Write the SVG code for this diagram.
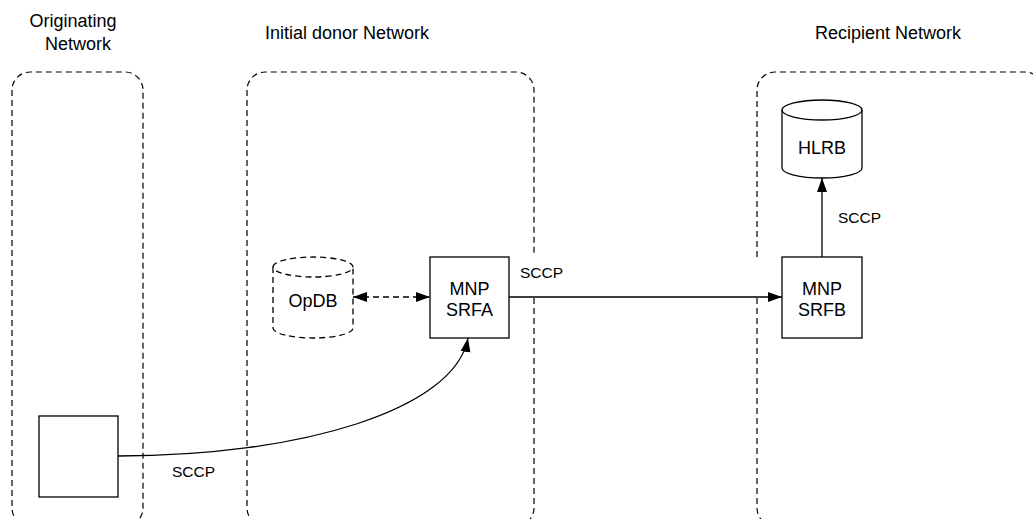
<svg xmlns="http://www.w3.org/2000/svg" width="1033" height="519" viewBox="0 0 1033 519">
  <style>
    .zone { fill: none; stroke: #000; stroke-width: 1.2; stroke-dasharray: 6 4; }
    .box { fill: #fff; stroke: #000; stroke-width: 1.3; }
    .db-dash { fill: #fff; stroke: #000; stroke-width: 1.3; stroke-dasharray: 6 4; }
    .title { font-family: "Liberation Sans", Arial, sans-serif; font-size: 18px; fill: #000; text-anchor: middle; }
    .label { font-family: "Liberation Sans", Arial, sans-serif; font-size: 18px; fill: #000; text-anchor: middle; }
    .proto { font-family: "Liberation Sans", Arial, sans-serif; font-size: 15.5px; fill: #000; }
    .link { fill: none; stroke: #000; stroke-width: 1.3; }
    .link.dashed { stroke-dasharray: 6 4; }
  </style>
  <defs>
    <marker id="arrow" markerUnits="userSpaceOnUse" markerWidth="15" markerHeight="11" refX="14" refY="5" orient="auto-start-reverse">
      <path d="M0,0 L14,5 L0,10 z" fill="#000"/>
    </marker>
  </defs>

  <rect width="1033" height="519" fill="#fff"/>

  <!-- Network zones (rounded dashed frames, bottoms just below the canvas edge) -->
  <g id="zone-originating">
    <path class="zone" d="M30,526 A18,18 0 0 1 12,508 V90 A18,18 0 0 1 30,72 H125 A18,18 0 0 1 143,90 V508 A18,18 0 0 1 125,526"/>
    <text class="title" x="73" y="27">Originating</text>
    <text class="title" x="78" y="50">Network</text>
  </g>
  <g id="zone-donor">
    <path class="zone" d="M265,526 A18,18 0 0 1 247,508 V90 A18,18 0 0 1 265,72 H516 A18,18 0 0 1 534,90 V255 M534,298 V508 A18,18 0 0 1 516,526"/>
    <text class="title" x="347" y="39">Initial donor Network</text>
  </g>
  <g id="zone-recipient">
    <path class="zone" d="M757,257 V90 A18,18 0 0 1 775,72 H1025 A18,18 0 0 1 1043,90 V530 M757,298 V508 A18,18 0 0 0 775,526"/>
    <text class="title" x="888" y="39">Recipient Network</text>
  </g>

  <!-- Nodes -->
  <g id="origin-node">
    <rect class="box" x="39" y="416" width="79" height="81"/>
  </g>
  <g id="opdb">
    <path class="db-dash" d="M273,267 V328 A40,10 0 0 0 353,328 V267"/>
    <path class="db-dash" d="M273,267 A40,10 0 0 1 353,267 A40,10 0 0 1 273,267 Z"/>
    <text class="label" x="313" y="307">OpDB</text>
  </g>
  <g id="mnp-srfa">
    <rect class="box" x="430" y="257" width="79" height="81"/>
    <text class="label" x="469.5" y="295">MNP</text>
    <text class="label" x="469.5" y="316">SRFA</text>
  </g>
  <g id="mnp-srfb">
    <rect class="box" x="782" y="257" width="80" height="81"/>
    <text class="label" x="822" y="295">MNP</text>
    <text class="label" x="822" y="316">SRFB</text>
  </g>
  <g id="hlrb">
    <path class="box" d="M782,110 V168 A40,10 0 0 0 862,168 V110"/>
    <path class="box" d="M782,110 A40,10 0 0 1 862,110 A40,10 0 0 1 782,110 Z"/>
    <text class="label" x="822" y="154">HLRB</text>
  </g>

  <!-- Connectors -->
  <g id="connectors">
    <path class="link dashed" d="M353,297 H430" marker-start="url(#arrow)" marker-end="url(#arrow)"/>
    <path class="link" d="M509,297 H782" marker-end="url(#arrow)"/>
    <path class="link" d="M822,257 V178" marker-end="url(#arrow)"/>
    <path class="link" d="M118,456 C300,456 455,410 468,338" marker-end="url(#arrow)"/>
    <text class="proto" x="520" y="278">SCCP</text>
    <text class="proto" x="838" y="223">SCCP</text>
    <text class="proto" x="172" y="477">SCCP</text>
  </g>
</svg>
